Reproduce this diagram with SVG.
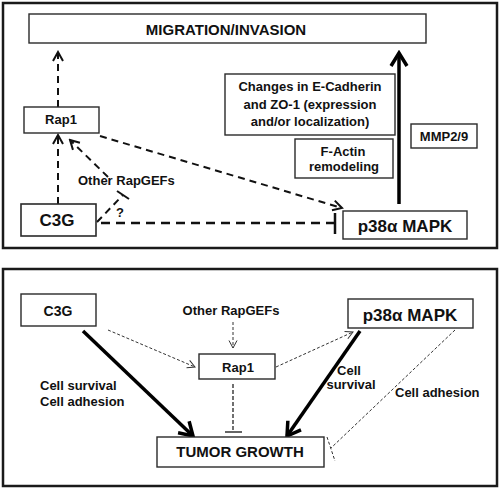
<svg xmlns="http://www.w3.org/2000/svg" width="500" height="488" viewBox="0 0 500 488">
<style>
.frame{fill:#fff;stroke:#1a1a1a;stroke-width:2.5}
.box{fill:#fff;stroke:#2a2a2a;stroke-width:1.4}
.t{font-family:"Liberation Sans",Arial,sans-serif;font-weight:bold;fill:#111}
.c{text-anchor:middle}
.dash{fill:none;stroke:#111;stroke-width:2;stroke-dasharray:7 5}
.dashH{fill:none;stroke:#111;stroke-width:2.6;stroke-dasharray:9 6}
.thin{fill:none;stroke:#333;stroke-width:1;stroke-dasharray:3 2}
.thick{fill:none;stroke:#000;stroke-width:3.5}
.bar{stroke:#111;stroke-width:2}
</style>
<defs>
<marker id="aS" markerUnits="userSpaceOnUse" markerWidth="14" markerHeight="14" viewBox="0 0 14 14" refX="12" refY="7" orient="auto">
<path d="M3,2 L12,7 L3,12" fill="none" stroke="#111" stroke-width="2"/>
</marker>
<marker id="aT" markerUnits="userSpaceOnUse" markerWidth="12" markerHeight="12" viewBox="0 0 12 12" refX="10.5" refY="6" orient="auto">
<path d="M3,2 L10.5,6 L3,10" fill="none" stroke="#333" stroke-width="1"/>
</marker>
<marker id="aB" markerUnits="userSpaceOnUse" markerWidth="20" markerHeight="20" viewBox="0 0 20 20" refX="17" refY="10" orient="auto">
<path d="M4,2 L17,10 L4,18" fill="none" stroke="#000" stroke-width="3.5"/>
</marker>
</defs>
<rect x="0" y="0" width="500" height="488" fill="#fff"/>

<!-- Top panel -->
<rect class="frame" x="3" y="3" width="494" height="245"/>

<g id="connectors-top">
<line class="dash" x1="58" y1="107" x2="58" y2="52" marker-end="url(#aS)"/>
<line class="dash" x1="58" y1="204" x2="58" y2="135" marker-end="url(#aS)"/>
<line class="dash" x1="108" y1="177" x2="70" y2="140" marker-end="url(#aS)"/>
<line class="dash" x1="97" y1="222" x2="123" y2="195"/>
<line class="bar" x1="117" y1="191" x2="129" y2="199"/>
<line class="dash" x1="100" y1="136" x2="342" y2="208" marker-end="url(#aS)"/>
<line class="dashH" x1="101" y1="223" x2="334" y2="223"/>
<line class="bar" x1="335" y1="213" x2="335" y2="234" style="stroke-width:2.5"/>
<line class="thick" x1="399" y1="204" x2="399" y2="53" marker-end="url(#aB)"/>
</g>

<g id="migration">
<rect class="box" x="29" y="14" width="397" height="29"/>
<text class="t c" x="226" y="35" font-size="15">MIGRATION/INVASION</text>
</g>
<g id="rap1-top">
<rect class="box" x="24" y="107" width="75" height="26"/>
<text class="t c" x="61" y="124" font-size="13">Rap1</text>
</g>
<g id="c3g-top">
<rect class="box" x="21" y="204" width="75" height="32" style="stroke-width:1.6"/>
<text class="t c" x="57" y="226" font-size="17">C3G</text>
</g>
<g id="other-rapgefs-top">
<text class="t" x="78" y="185" font-size="13">Other RapGEFs</text>
<text class="t c" x="120" y="217" font-size="13">?</text>
</g>
<g id="p38-top">
<rect class="box" x="343" y="211" width="124" height="28"/>
<text class="t c" x="405" y="232" font-size="17">p38α MAPK</text>
</g>
<g id="changes">
<rect class="box" x="225" y="74" width="170" height="61"/>
<text class="t c" x="310" y="91" font-size="13">Changes in E-Cadherin</text>
<text class="t c" x="310" y="108.5" font-size="13">and ZO-1 (expression</text>
<text class="t c" x="310" y="126" font-size="13">and/or localization)</text>
</g>
<g id="factin">
<rect class="box" x="295" y="139" width="98" height="39"/>
<text class="t c" x="343" y="156" font-size="13">F-Actin</text>
<text class="t c" x="344" y="171" font-size="13">remodeling</text>
</g>
<g id="mmp">
<rect class="box" x="411" y="124" width="66" height="24"/>
<text class="t c" x="444" y="141" font-size="13">MMP2/9</text>
</g>

<!-- Bottom panel -->
<rect class="frame" x="3" y="269" width="494" height="217"/>

<g id="connectors-bottom">
<line class="thin" x1="108" y1="330" x2="195" y2="367" marker-end="url(#aT)"/>
<line class="thin" x1="233" y1="322" x2="233" y2="348" marker-end="url(#aT)"/>
<line class="thin" x1="276" y1="367" x2="353" y2="332" marker-end="url(#aT)"/>
<line class="thin" x1="233" y1="384" x2="233" y2="432" style="stroke:#111;stroke-width:1.2;stroke-dasharray:4 2"/>
<line x1="225" y1="432" x2="242" y2="432" stroke="#111" stroke-width="1.3"/>
<line class="thick" x1="83" y1="331" x2="193" y2="436" marker-end="url(#aB)"/>
<line class="thick" x1="360" y1="331" x2="287" y2="436" marker-end="url(#aB)"/>
<line class="thin" x1="455" y1="330" x2="331" y2="448"/>
<line class="thin" x1="327" y1="437" x2="335" y2="461"/>
</g>

<g id="c3g-bottom">
<rect class="box" x="21" y="294" width="75" height="32"/>
<text class="t c" x="58" y="316" font-size="14">C3G</text>
</g>
<g id="other-rapgefs-bottom">
<text class="t c" x="231" y="315" font-size="13">Other RapGEFs</text>
</g>
<g id="rap1-bottom">
<rect class="box" x="199" y="354" width="76" height="25"/>
<text class="t c" x="238" y="372" font-size="13">Rap1</text>
</g>
<g id="tumor">
<rect class="box" x="157" y="437" width="167" height="30"/>
<text class="t c" x="240" y="457" font-size="15">TUMOR GROWTH</text>
</g>
<g id="p38-bottom">
<rect class="box" x="348" y="299" width="125" height="29"/>
<text class="t c" x="410" y="321" font-size="17">p38α MAPK</text>
</g>
<g id="labels-bottom">
<text class="t" x="40" y="390" font-size="13">Cell survival</text>
<text class="t" x="40" y="405.5" font-size="13">Cell adhesion</text>
<text class="t c" x="349" y="375" font-size="13">Cell</text>
<text class="t c" x="351" y="389" font-size="13">survival</text>
<text class="t" x="395" y="397" font-size="13">Cell adhesion</text>
</g>
</svg>
